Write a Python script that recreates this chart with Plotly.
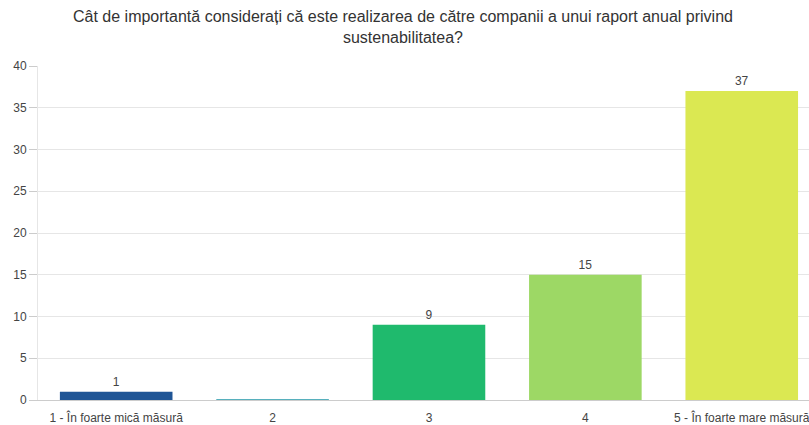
import plotly.graph_objects as go

categories = ["1 - În foarte mică măsură", "2", "3", "4", "5 - În foarte mare măsură"]
values = [1, 0, 9, 15, 37]
bar_labels = ["1", "", "9", "15", "37"]
colors = ["#1f5596", "#2196a8", "#1fba6d", "#9dd865", "#dbe852"]
line_widths = [0, 1.5, 0, 0, 0]
title_text = ("Cât de importantă considerați că este realizarea de către companii a unui raport anual privind"
              "<br>sustenabilitatea?")

fig = go.Figure(go.Bar(
    x=list(range(len(categories))),
    y=values,
    text=bar_labels,
    textposition="outside",
    textfont=dict(size=12, color="#444"),
    cliponaxis=False,
    marker=dict(color=colors, line=dict(color=colors, width=line_widths)),
    hoverinfo="skip",
))

fig.update_layout(
    width=809, height=425,
    margin=dict(l=38, r=0, t=66, b=25),
    paper_bgcolor="white", plot_bgcolor="white",
    font=dict(family="Liberation Sans, Arial, sans-serif", size=12, color="#444"),
    bargap=0.28,
    showlegend=False,
)
fig.add_annotation(
    text=title_text, xref="paper", yref="paper",
    x=(402.5 - 38) / 771, y=1 + (66 - 27.5) / 334, xanchor="center", yanchor="middle",
    showarrow=False, align="center",
    font=dict(family="Liberation Sans, Arial, sans-serif", size=16, color="#333"),
)
fig.update_xaxes(
    tickmode="array", tickvals=list(range(len(categories))), ticktext=categories,
    range=[-0.5, 4.43], showgrid=False, showline=True, linecolor="#cccccc", linewidth=1,
    layer="below traces",
    ticks="", ticklabelstandoff=7, ticklabeloverflow="allow",
    tickfont=dict(size=12, color="#444"),
)
fig.update_yaxes(
    range=[0, 40], dtick=5, showgrid=True, gridcolor="#e6e6e6", gridwidth=1,
    showline=True, linecolor="#e6e6e6", linewidth=1, zeroline=False,
    ticks="outside", ticklen=8, tickcolor="#cccccc",
    tickfont=dict(size=12, color="#444"),
)

fig.write_html(
    "out.html",
    config={"displayModeBar": False},
    post_script="document.body.style.margin='0';document.body.style.overflow='hidden';",
)
